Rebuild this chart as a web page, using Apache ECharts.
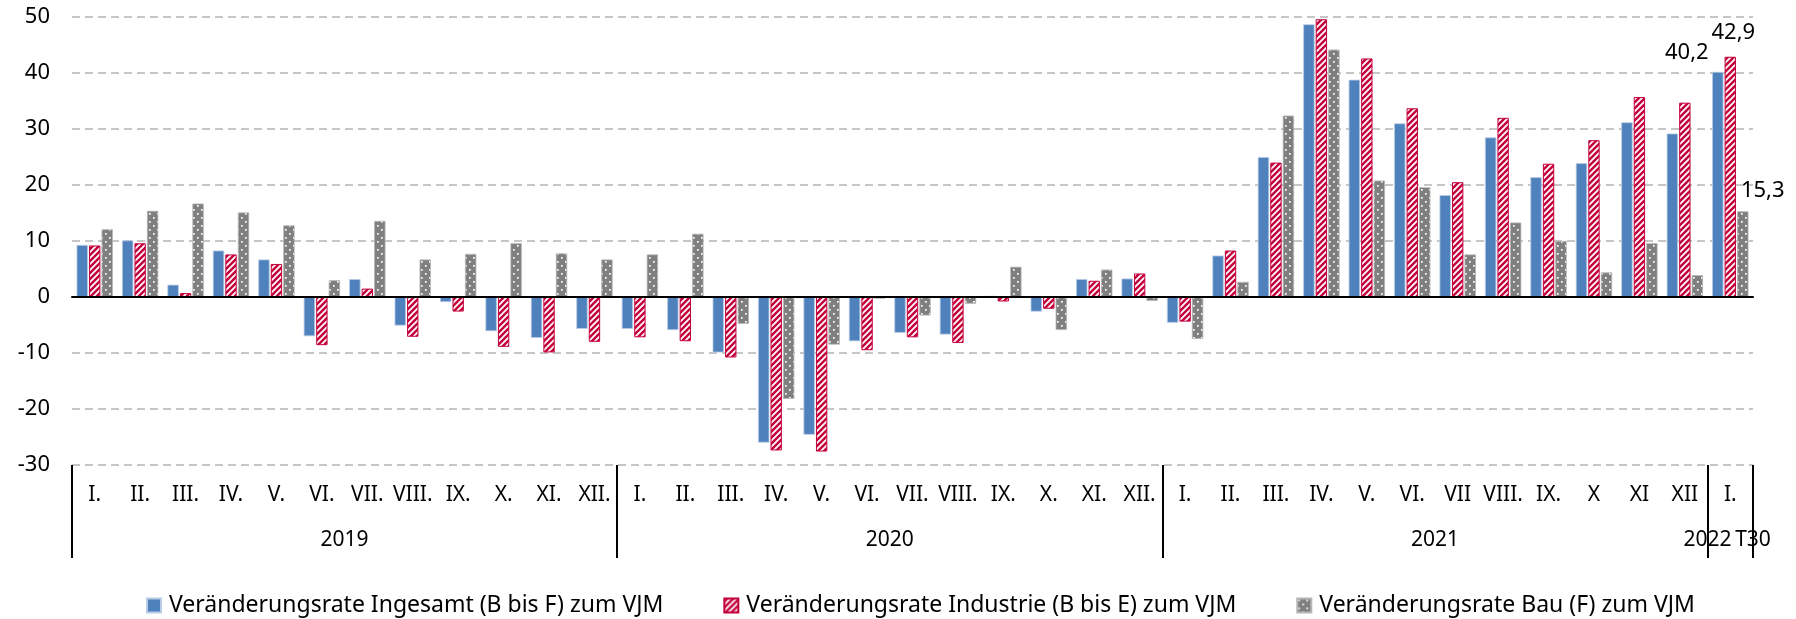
<!DOCTYPE html>
<html>
<head>
<meta charset="UTF-8">
<title>Veränderungsrate zum VJM</title>
<script src="https://cdn.jsdelivr.net/npm/echarts@6/dist/echarts.min.js"></script>
<style>
  html, body { margin: 0; padding: 0; background: #fff; }
  #main { width: 1796px; height: 619px; }
</style>
</head>
<body>
<div id="main"></div>
<script>
// Monatsbeschriftungen (Kategorien)
var months2019 = ['I.', 'II.', 'III.', 'IV.', 'V.', 'VI.', 'VII.', 'VIII.', 'IX.', 'X.', 'XI.', 'XII.'];
var months2020 = ['I.', 'II.', 'III.', 'IV.', 'V.', 'VI.', 'VII.', 'VIII.', 'IX.', 'X.', 'XI.', 'XII.'];
var months2021 = ['I.', 'II.', 'III.', 'IV.', 'V.', 'VI.', 'VII', 'VIII.', 'IX.', 'X', 'XI', 'XII'];
var months2022 = ['I.'];
var months = months2019.concat(months2020, months2021, months2022);

// Jahresbeschriftungen und ihre Lage auf der Kategorieachse
var yearLabels = ['2019', '2020', '2021', '2022', 'T30'];
var yearAt = [6, 18, 30, 36, 37];
// Gruppengrenzen (Trennlinien unter der Achse)
var groupStarts = [0, 12, 24, 36];

var seriesNames = [
    'Veränderungsrate Ingesamt (B bis F) zum VJM',
    'Veränderungsrate Industrie (B bis E) zum VJM',
    'Veränderungsrate Bau (F) zum VJM'
];

var ingesamt = [
    9.3, 10.1, 2.2, 8.3, 6.7, -7.0, 3.2, -5.1, -0.9, -6.1, -7.3, -5.7,
    -5.7, -5.9, -9.9, -26.0, -24.6, -7.9, -6.4, -6.7, 0.2, -2.6, 3.2, 3.3,
    -4.6, 7.4, 25.0, 48.7, 38.8, 31.0, 18.2, 28.5, 21.4, 23.9, 31.2, 29.2,
    40.2
];
var industrie = [
    9.2, 9.6, 0.7, 7.6, 5.9, -8.6, 1.5, -7.1, -2.6, -8.9, -9.9, -8.0,
    -7.2, -7.9, -10.8, -27.4, -27.6, -9.5, -7.2, -8.2, -0.8, -2.1, 2.9, 4.2,
    -4.4, 8.3, 24.0, 49.6, 42.6, 33.7, 20.5, 32.0, 23.8, 28.0, 35.7, 34.7,
    42.9
];
var bau = [
    12.1, 15.4, 16.7, 15.1, 12.8, 3.0, 13.6, 6.7, 7.7, 9.6, 7.8, 6.7,
    7.6, 11.3, -4.8, -18.2, -8.5, -0.3, -3.3, -1.2, 5.4, -5.9, 4.9, -0.7,
    -7.5, 2.7, 32.4, 44.2, 20.8, 19.6, 7.6, 13.3, 10.0, 4.4, 9.6, 3.9,
    15.3
];

var FONT = '"Noto Sans", "DejaVu Sans", sans-serif';

// Schraffur (rot/weiss diagonal)
function hatchPattern() {
    var c = document.createElement('canvas');
    c.width = 6; c.height = 6;
    var g = c.getContext('2d');
    g.fillStyle = '#c4003b';
    g.fillRect(0, 0, 6, 6);
    g.strokeStyle = '#ffffff';
    g.lineWidth = 1.8;
    g.beginPath();
    g.moveTo(-1, 7); g.lineTo(7, -1);
    g.moveTo(-1, 1); g.lineTo(1, -1);
    g.moveTo(5, 7); g.lineTo(7, 5);
    g.stroke();
    return c;
}

// graue Fläche mit weissen Punkten
function dotPattern() {
    var c = document.createElement('canvas');
    c.width = 8; c.height = 8;
    var g = c.getContext('2d');
    g.fillStyle = '#7f7f7f';
    g.fillRect(0, 0, 8, 8);
    g.fillStyle = '#ffffff';
    g.fillRect(1, 1, 1.7, 1.7);
    g.fillRect(5, 5, 1.7, 1.7);
    return c;
}

function lastLabel(values, offset) {
    return values.map(function (v, i) {
        if (i !== values.length - 1) return v;
        return {
            value: v,
            label: {
                show: true,
                position: 'top',
                offset: offset,
                fontFamily: FONT,
                fontSize: 22,
                lineHeight: 16,
                color: '#000',
                formatter: function (p) { return p.value.toFixed(1).replace('.', ','); }
            }
        };
    });
}

var myChart = echarts.init(document.getElementById('main'));

var option = {
    backgroundColor: '#fff',
    animation: false,
    textStyle: { fontFamily: FONT },
    grid: { left: 72, right: 43, top: 17, bottom: 154 },
    legend: {
        top: 589,
        left: 141,
        itemWidth: 14,
        itemHeight: 14,
        itemGap: 60,
        icon: 'rect',
        textStyle: { fontFamily: FONT, fontSize: 23, color: '#000', padding: [0, 0, 0, 3] },
        data: seriesNames
    },
    xAxis: [
        {
            // Nulllinie
            type: 'category',
            data: months,
            axisLine: { onZero: true, lineStyle: { color: '#000', width: 2 } },
            axisTick: { show: false },
            axisLabel: { show: false },
            z: 5
        },
        {
            // Monate + Trennstriche
            type: 'category',
            data: months,
            position: 'bottom',
            axisLine: { show: false, onZero: false },
            axisTick: {
                show: true,
                length: 93,
                interval: function (idx) { return groupStarts.indexOf(idx) >= 0; },
                lineStyle: { color: '#000', width: 2 }
            },
            axisLabel: {
                interval: 0,
                margin: 20,
                fontFamily: FONT,
                fontSize: 21,
                color: '#000'
            }
        },
        {
            // Jahre
            type: 'value',
            min: 0,
            max: 37,
            interval: 1,
            position: 'bottom',
            axisLine: { show: false, onZero: false },
            axisTick: { show: false },
            splitLine: { show: false },
            axisLabel: {
                margin: 65,
                fontFamily: FONT,
                fontSize: 21,
                color: '#000',
                showMinLabel: true,
                showMaxLabel: true,
                formatter: function (v) {
                    var i = yearAt.indexOf(v);
                    return i >= 0 ? yearLabels[i] : '';
                }
            }
        }
    ],
    yAxis: {
        type: 'value',
        min: -30,
        max: 50,
        interval: 10,
        axisLine: { show: false },
        axisTick: { show: false },
        axisLabel: { margin: 22, fontFamily: FONT, fontSize: 22, color: '#000' },
        splitLine: { lineStyle: { color: '#c6c6c6', width: 2, type: [8, 5] } }
    },
    series: [
        {
            name: seriesNames[0],
            type: 'bar',
            xAxisIndex: 0,
            barGap: '10%',
            barCategoryGap: '20%',
            itemStyle: { color: '#4f81bd', borderColor: '#b8cce4', borderWidth: 0.8 },
            data: lastLabel(ingesamt, [-31, -6])
        },
        {
            name: seriesNames[1],
            type: 'bar',
            xAxisIndex: 0,
            itemStyle: {
                color: { image: hatchPattern(), repeat: 'repeat' },
                borderColor: '#c4003b',
                borderWidth: 1
            },
            data: lastLabel(industrie, [3, -11])
        },
        {
            name: seriesNames[2],
            type: 'bar',
            xAxisIndex: 0,
            itemStyle: {
                color: { image: dotPattern(), repeat: 'repeat' },
                borderColor: '#b5b5b5',
                borderWidth: 0.8
            },
            data: lastLabel(bau, [20, -8])
        }
    ]
};

myChart.setOption(option);
</script>
</body>
</html>
